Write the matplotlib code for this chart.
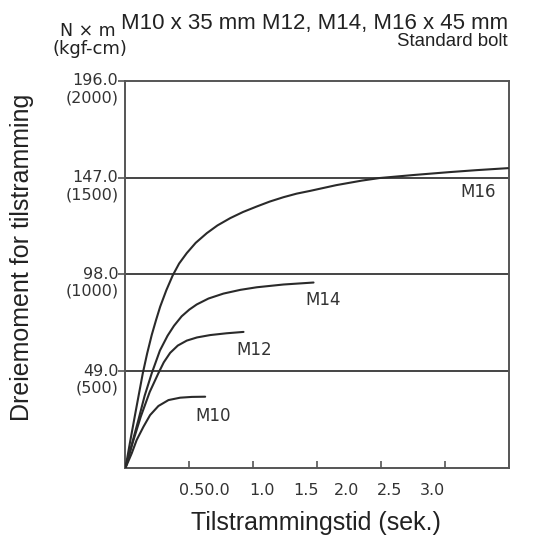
import matplotlib
matplotlib.use("Agg")
import matplotlib.pyplot as plt

plt.rcParams['font.family'] = ['Liberation Sans', 'DejaVu Sans']

# ---- data ----
m10_x = [0.0, 0.049, 0.088, 0.141, 0.193, 0.258, 0.337, 0.428, 0.52, 0.624]
m10_y = [0.0, 7.4, 14.2, 20.9, 26.8, 31.4, 34.4, 35.6, 36.0, 36.1]

m12_x = [0.0, 0.06, 0.12, 0.19, 0.258, 0.30, 0.35, 0.41, 0.48, 0.56, 0.663, 0.79, 0.924]
m12_y = [0.0, 13.5, 26.0, 38.5, 48.0, 53.5, 58.3, 62.0, 64.5, 66.1, 67.3, 68.2, 68.9]

m14_x = [0.0, 0.05, 0.10, 0.15, 0.206, 0.27, 0.33, 0.38, 0.44, 0.50, 0.558, 0.65,
         0.767, 0.9, 1.028, 1.237, 1.472]
m14_y = [0.0, 12.0, 24.0, 36.5, 48.0, 59.5, 67.0, 72.0, 76.8, 80.2, 82.8, 85.8,
         88.3, 90.2, 91.5, 92.9, 93.9]

m16_x = [0.0, 0.04, 0.084, 0.136, 0.17, 0.206, 0.24, 0.272, 0.32, 0.37, 0.42, 0.48,
         0.55, 0.637, 0.72, 0.82, 0.92, 1.028, 1.13, 1.237, 1.34, 1.446, 1.65, 1.85,
         1.989, 2.25, 2.537, 2.75, 2.994]
m16_y = [0.0, 14.5, 30.0, 48.0, 58.0, 67.4, 75.0, 81.7, 90.0, 97.5, 103.5, 108.8,
         114.0, 118.9, 122.8, 126.5, 129.6, 132.4, 134.9, 137.1, 138.9, 140.3, 143.2, 145.5,
         146.8, 148.3, 149.8, 150.8, 151.8]

series_names = ["M10", "M12", "M14", "M16"]
series_label_pos = [(0.69, 26.1), (1.01, 59.5), (1.55, 85.1), (2.76, 139.8)]

ytick_values = [49.0, 98.0, 147.0, 196.0]
ytick_labels = ["49.0", "98.0", "147.0", "196.0"]
ytick_sublabels = ["(500)", "(1000)", "(1500)", "(2000)"]
grid_values = [49.0, 98.0, 147.0]

xtick_values = [0.5, 1.0, 1.5, 2.0, 2.5]
xtick_labels = ["0.50.0", "1.0", "1.5", "2.0", "2.5", "3.0"]
xlabel_positions = [0.62, 1.065, 1.41, 1.73, 2.07, 2.40]

# ---- figure ----
fig = plt.figure(figsize=(5.43, 5.40), dpi=100)
ax = fig.add_axes([0.231, 0.1333, 0.706, 0.717])

line_col = '#2a2a2a'
frame_col = '#555555'
tick_font = ['DejaVu Sans']

for gv in grid_values:
    ax.axhline(gv, color='#444444', lw=1.4, zorder=1)

for xs, ys in [(m10_x, m10_y), (m12_x, m12_y), (m14_x, m14_y), (m16_x, m16_y)]:
    ax.plot(xs, ys, color=line_col, lw=1.5, zorder=3,
            solid_joinstyle='round', solid_capstyle='round')

for name, (lx, ly) in zip(series_names, series_label_pos):
    ax.text(lx, ly, name, ha='center', va='center', fontsize=12,
            family=tick_font, color='#333333')

ax.set_xlim(0, 3.0)
ax.set_ylim(0, 196)

for sp in ax.spines.values():
    sp.set_color(frame_col)
    sp.set_linewidth(1.4)

# x ticks: marks at values, labels at their own positions
ax.set_xticks(xtick_values)
ax.set_xticklabels([])
ax.tick_params(axis='x', which='major', direction='in', length=5, width=1.2, color=frame_col)
ax.set_xticks(xlabel_positions, minor=True)
ax.set_xticklabels(xtick_labels, minor=True, fontsize=11.5, family=tick_font, color='#333333')
ax.tick_params(axis='x', which='minor', length=0, pad=11)

# y ticks
ax.set_yticks(ytick_values)
ax.set_yticklabels([])
ax.tick_params(axis='y', which='major', direction='out', length=5, width=1.2, color=frame_col)
for v, l1, l2 in zip(ytick_values, ytick_labels, ytick_sublabels):
    ax.annotate(l1, xy=(0, v), xycoords=('axes fraction', 'data'), xytext=(-7, 0),
                textcoords='offset pixels', ha='right', va='center', fontsize=11.5,
                family=tick_font, color='#333333')
    ax.annotate(l2, xy=(0, v), xycoords=('axes fraction', 'data'), xytext=(-7, -17),
                textcoords='offset pixels', ha='right', va='center', fontsize=11.5,
                family=tick_font, color='#333333')

ax.set_xlabel("Tilstrammingstid (sek.)", fontsize=18, color='#222222')
ax.set_ylabel("Dreiemoment for tilstramming", fontsize=18, color='#222222')
ax.xaxis.set_label_coords(0.496, -0.142)
ax.xaxis.label.set_va('center')
ax.yaxis.set_label_coords(-0.27, 0.545)
ax.yaxis.label.set_va('center')
ax.yaxis.label.set_ha('center')

W, H = 543.0, 540.0
fig.text(508 / W, 1 - 23 / H, "M10 x 35 mm M12, M14, M16 x 45 mm", ha='right', va='center',
         fontsize=16, color='#222222')
fig.text(508 / W, 1 - 41 / H, "Standard bolt", ha='right', va='center', fontsize=13.4,
         color='#222222')
fig.text(116 / W, 1 - 31 / H, "N \u00d7 m", ha='right', va='center', fontsize=12.5,
         family=tick_font, color='#222222')
fig.text(127 / W, 1 - 49 / H, "(kgf-cm)", ha='right', va='center', fontsize=13,
         family=tick_font, color='#222222')

fig.savefig("out.png", dpi=100)
